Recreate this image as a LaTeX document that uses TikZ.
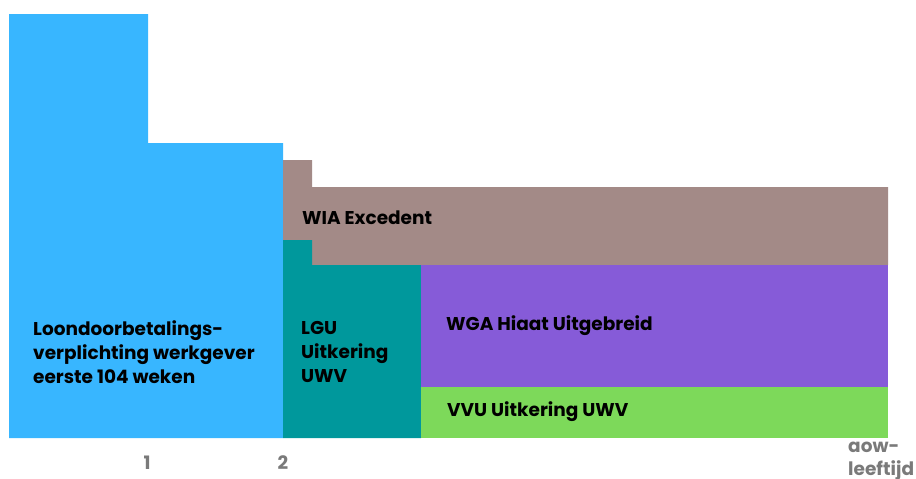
\documentclass[tikz,border=0pt]{standalone}
\usepackage{fontspec}
\setmainfont{Poppins}
\definecolor{cblue}{HTML}{38B6FF}
\definecolor{cbrown}{HTML}{A38A87}
\definecolor{cteal}{HTML}{00989C}
\definecolor{cpurple}{HTML}{865BD8}
\definecolor{cgreen}{HTML}{7DD95A}
\definecolor{caxis}{HTML}{7A7A7A}
\begin{document}
\begin{tikzpicture}[x=1pt,y=-1pt,
  lbl/.style={anchor=west,align=left,inner sep=0pt,font=\fontsize{18.5}{24}\selectfont\bfseries,text=black},
  axlbl/.style={inner sep=0pt,font=\fontsize{18.5}{23}\selectfont\bfseries,text=caxis,align=left}]
\useasboundingbox (0,0) rectangle (916,479);
% blue
\fill[cblue] (9,438) -- (9,14) -- (148,14) -- (148,143) -- (283,143) -- (283,438) -- cycle;
% brown
\fill[cbrown] (283,265) -- (283,160) -- (312,160) -- (312,187) -- (888,187) -- (888,265) -- cycle;
% teal
\fill[cteal] (283,438) -- (283,240) -- (312,240) -- (312,265) -- (421,265) -- (421,438) -- cycle;
% purple
\fill[cpurple] (421,265) rectangle (888,387);
% green
\fill[cgreen] (421,387) rectangle (888,438);
% labels
\node[lbl] (loon) at (33,352) {Loondoorbetalings-\\verplichting werkgever\\eerste 104 weken};
\node[lbl] (lgu) at (301,352) {LGU\\Uitkering\\UWV};
\node[lbl] (wia) at (302,218) {WIA Excedent};
\node[lbl] (wga) at (446,326) {WGA Hiaat Uitgebreid};
\node[lbl] (vvu) at (447,412) {VVU Uitkering UWV};
\node[axlbl] (one) at (147,463) {1};
\node[axlbl] (two) at (283,463) {2};
\node[axlbl,anchor=west] (aow) at (848,461) {aow-\\leeftijd};
\end{tikzpicture}
\end{document}
